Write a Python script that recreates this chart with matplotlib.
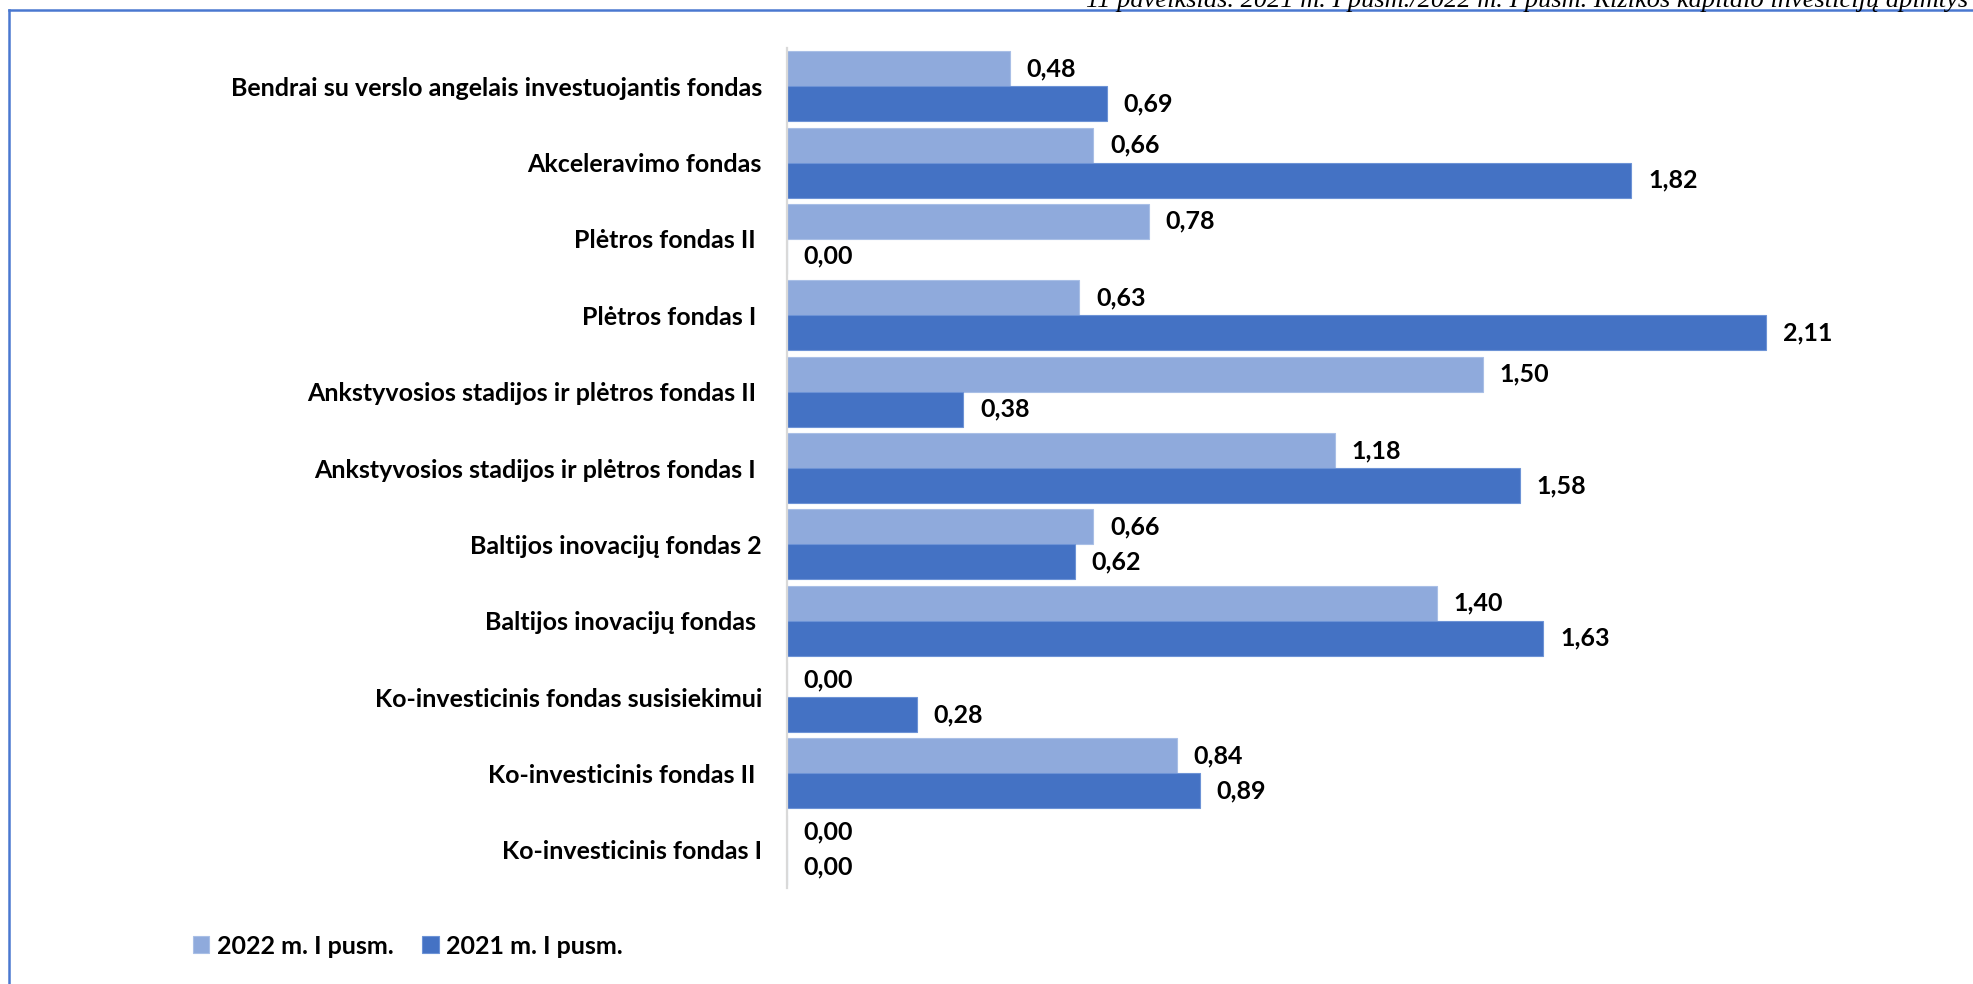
import matplotlib
matplotlib.use("Agg")
import matplotlib.pyplot as plt
from matplotlib.lines import Line2D
import numpy as np

# data, top to bottom as in the chart
funds = [
    "Bendrai su verslo angelais investuojantis fondas",
    "Akceleravimo fondas",
    "Plėtros fondas II ",
    "Plėtros fondas I ",
    "Ankstyvosios stadijos ir plėtros fondas II ",
    "Ankstyvosios stadijos ir plėtros fondas I ",
    "Baltijos inovacijų fondas 2",
    "Baltijos inovacijų fondas ",
    "Ko-investicinis fondas susisiekimui",
    "Ko-investicinis fondas II ",
    "Ko-investicinis fondas I",
]
h1_2022 = [0.48, 0.66, 0.78, 0.63, 1.50, 1.18, 0.66, 1.40, 0.00, 0.84, 0.00]
h1_2021 = [0.69, 1.82, 0.00, 2.11, 0.38, 1.58, 0.62, 1.63, 0.28, 0.89, 0.00]
series_names = ["2022 m. I pusm.", "2021 m. I pusm."]

caption = "11 paveikslas. 2021 m. I pusm./2022 m. I pusm. Rizikos kapitalo investicijų apimtys"

light = "#8FAADC"
dark = "#4472C4"
frame_blue = "#4A78D0"

W, H = 1973, 984
fig = plt.figure(figsize=(W / 100, H / 100), dpi=100)

ax_left, ax_top, ax_bottom = 787, 48, 888
px_per_unit = 464
xmax = 2.5
ax = fig.add_axes([ax_left / W, 1 - ax_bottom / H,
                   xmax * px_per_unit / W, (ax_bottom - ax_top) / H])

y = np.arange(len(funds))
bh = 35 / 76.4
b22 = ax.barh(y - bh / 2, h1_2022, height=bh, color=light, edgecolor="#A9BFE6",
              linewidth=0.8, label=series_names[0])
b21 = ax.barh(y + bh / 2, h1_2021, height=bh, color=dark, edgecolor="#6D93D6",
              linewidth=0.8, label=series_names[1])

ax.set_xlim(0, xmax)
ax.set_ylim(len(funds) - 0.5, -0.5)

fs = 18
lbl_font = dict(family="Lato", fontweight="bold", fontsize=fs, color="black")

for bars, vals in ((b22, h1_2022), (b21, h1_2021)):
    for rect, v in zip(bars, vals):
        ax.annotate(f"{v:.2f}".replace(".", ","),
                    xy=(rect.get_width(), rect.get_y() + rect.get_height() / 2),
                    xytext=(12, 0), textcoords="offset points",
                    ha="left", va="center", **lbl_font)

ax.set_yticks(y)
ax.set_yticklabels(funds, **lbl_font)
ax.tick_params(axis="y", length=0, pad=18)
ax.set_xticks([])
for side in ("top", "right", "bottom"):
    ax.spines[side].set_visible(False)
ax.spines["left"].set_color("#D9D9D9")
ax.spines["left"].set_linewidth(1.6)

fig.legend(handles=[b22, b21], labels=series_names, loc="center left",
           bbox_to_anchor=(193 / W, 1 - 946 / H), ncol=2, frameon=False,
           prop=dict(family="Lato", weight="bold", size=fs),
           handlelength=0.65, handleheight=0.65, handletextpad=0.3,
           columnspacing=1.15, borderpad=0, borderaxespad=0)

# page frame and figure caption, cut at the top like the source
fig.add_artist(Line2D([9 / W, 9 / W], [0, 1 - 10 / H], color=frame_blue, lw=1.8))
fig.add_artist(Line2D([9 / W, 1], [1 - 10 / H, 1 - 10 / H], color=frame_blue, lw=1.8))
fig.text(1968 / W, 1 - 7 / H, caption, ha="right", va="baseline",
         family="Liberation Serif", style="italic", fontsize=19)

fig.savefig("out.png", dpi=100, facecolor="white")
